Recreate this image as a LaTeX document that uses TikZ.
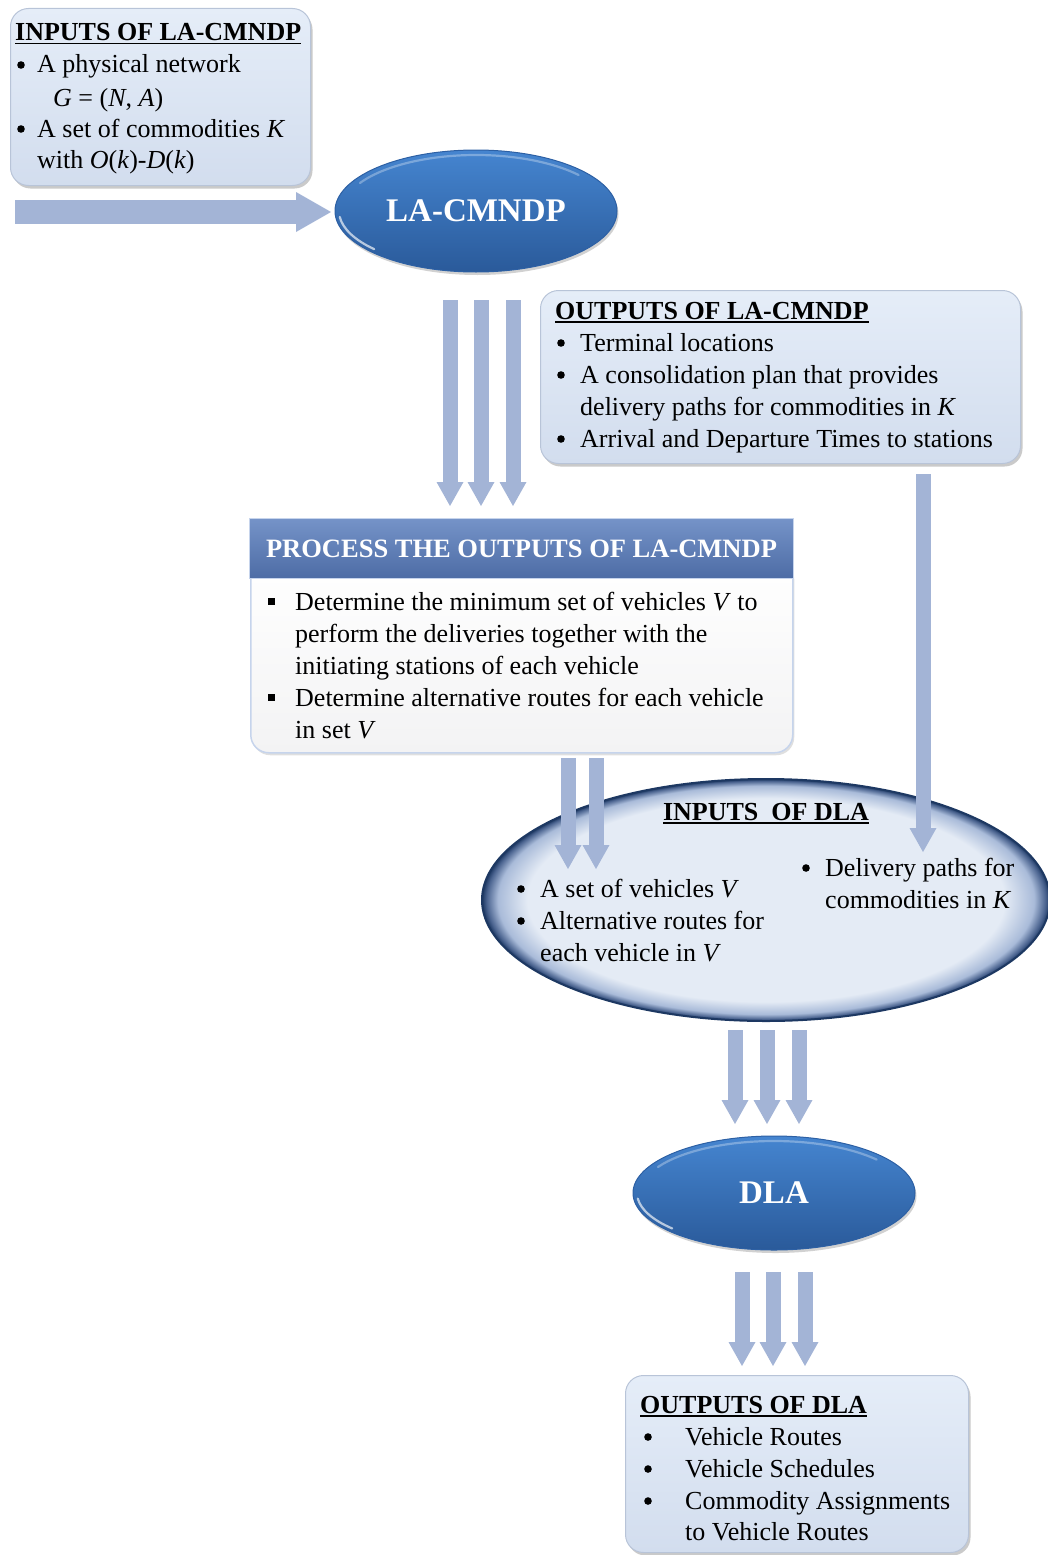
\documentclass[tikz,border=0pt]{standalone}
\usepackage{fontspec}
\setmainfont{Liberation Serif}
\usetikzlibrary{shapes.geometric,arrows.meta,shadows,calc}

\definecolor{boxtop}{HTML}{E5EDF8}
\definecolor{boxbot}{HTML}{D2DDEE}
\definecolor{boxline}{HTML}{B8C4D8}
\definecolor{ovaltop}{HTML}{4585D0}
\definecolor{ovalbot}{HTML}{2A5A9A}
\definecolor{ovalline}{HTML}{2D60A4}
\definecolor{flowc}{HTML}{A3B4D6}
\definecolor{headtop}{HTML}{7593C8}
\definecolor{headbot}{HTML}{4D6CA5}
\definecolor{bodyfill}{HTML}{F3F3F4}
\definecolor{bodyline}{HTML}{C6D4EC}
\definecolor{rimdark}{HTML}{1D3862}
\definecolor{rimdeep}{HTML}{4A638F}
\definecolor{rimmid}{HTML}{A9BBD9}
\definecolor{dlafill}{HTML}{E4EBF5}

% light interior fading into a dark navy rim (the path edge sits at 25bp)
\pgfdeclareradialshading{rimshade}{\pgfpoint{0bp}{0bp}}{color(0bp)=(dlafill); color(21bp)=(dlafill); color(23.6bp)=(rimmid); color(24.6bp)=(rimdeep); color(25bp)=(rimdark); color(50bp)=(rimdark)}

% heading text with a heavier underline
\newcommand\hdline[1]{\setbox0\hbox{#1}\rlap{\rule[-3.5pt]{\wd0}{1.6pt}}\box0}
\newcommand\sqbullet{\raisebox{5.5pt}{\rule{6.5pt}{6.5pt}}}

\tikzset{
  txt/.style={font=\fontsize{26}{32}\selectfont, inner sep=0pt, anchor=base west},
  hd/.style={txt, font=\fontsize{26}{32}\selectfont\bfseries},
  dot/.style={fill=black},
  panel/.style={rectangle, rounded corners=18pt, draw=boxline, line width=1pt,
    top color=boxtop, bottom color=boxbot, anchor=north west,
    drop shadow={shadow xshift=2pt, shadow yshift=-3pt, opacity=.35, fill=black!60}},
  oval/.style={ellipse, draw=ovalline, line width=1pt, top color=ovaltop, bottom color=ovalbot,
    text=white, font=\fontsize{33}{36}\selectfont\bfseries, inner sep=0pt,
    drop shadow={shadow xshift=1.5pt, shadow yshift=-3pt, opacity=.3, fill=black!60}},
  gleam/.style={white, line width=2.2pt, line cap=round, opacity=.65},
  flow/.style={draw=flowc, line width=15pt, -{Triangle[width=27pt,length=24pt,line width=0pt]}},
  bigflow/.style={draw=flowc, line width=24pt, -{Triangle[width=40pt,length=35pt,line width=0pt]}},
}

\begin{document}
\begin{tikzpicture}[x=1pt,y=1pt]
\useasboundingbox (0,0) rectangle (1047,-1555);

% ---------- inputs of LA-CMNDP ----------
\node[panel, minimum width=300, minimum height=177] (inLA) at (10,-8) {};
\node[hd]  (inLAh) at (15,-41)  {\hdline{INPUTS OF LA-CMNDP}};
\node[txt] (inLA1) at (37,-73)  {A physical network};
\node[txt] (inLA2) at (53,-106) {\textit{G} = (\textit{N}, \textit{A})};
\node[txt] (inLA3) at (37,-137) {A set of commodities \textit{K}};
\node[txt] (inLA4) at (37,-168) {with \textit{O}(\textit{k})-\textit{D}(\textit{k})};
\fill[dot] (21,-65) circle[radius=3.8];
\fill[dot] (21,-129) circle[radius=3.8];

% ---------- LA-CMNDP ----------
\node[oval, minimum width=282, minimum height=122] (la) at (476,-211) {LA-CMNDP};
\draw[gleam] ($(la.center)+(186:137 and 57)$) arc[start angle=186, end angle=222, x radius=137, y radius=57];
\draw[gleam, opacity=.3] ($(la.center)+(150:134 and 56)$) arc[start angle=150, end angle=40, x radius=134, y radius=56];

\coordinate (inS) at (15,-212);
\coordinate (inE) at (331,-212);
\draw[bigflow] (inS) -- (inE);

% ---------- outputs of LA-CMNDP ----------
\node[panel, minimum width=480, minimum height=173] (outLA) at (540,-290) {};
\node[hd]  (outLAh) at (555,-319) {\hdline{OUTPUTS OF LA-CMNDP}};
\node[txt] (outLA1) at (580,-351) {Terminal locations};
\node[txt] (outLA2) at (580,-383) {A consolidation plan that provides};
\node[txt] (outLA3) at (580,-415) {delivery paths for commodities in \textit{K}};
\node[txt] (outLA4) at (580,-447) {Arrival and Departure Times to stations};
\fill[dot] (561,-343) circle[radius=3.8];
\fill[dot] (561,-375) circle[radius=3.8];
\fill[dot] (561,-439) circle[radius=3.8];

% three flows from LA-CMNDP down to the processing step
\coordinate (fa1s) at (450,-300); \coordinate (fa1e) at (450,-506);
\coordinate (fa2s) at (481,-300); \coordinate (fa2e) at (481,-506);
\coordinate (fa3s) at (513,-300); \coordinate (fa3e) at (513,-506);
\draw[flow] (fa1s) -- (fa1e);
\draw[flow] (fa2s) -- (fa2e);
\draw[flow] (fa3s) -- (fa3e);

% ---------- processing step ----------
\node[rectangle, rounded corners=18pt, draw=bodyline, line width=1.5pt, top color=white, bottom color=bodyfill,
  minimum width=542, minimum height=194, anchor=north west,
  drop shadow={shadow xshift=1.5pt, shadow yshift=-2.5pt, opacity=.25, fill=black!50}] (proc) at (250,-558) {};
\node[rectangle, top color=headtop, bottom color=headbot, draw=bodyline, line width=1pt,
  minimum width=544, minimum height=60, anchor=north west, inner sep=0pt,
  text=white, font=\fontsize{26.5}{32}\selectfont\bfseries] (proch) at (249,-518) {PROCESS THE OUTPUTS OF LA-CMNDP};
\node[txt] (proc1) at (268,-610) {\makebox[27pt][l]{\sqbullet}Determine the minimum set of vehicles \textit{V} to};
\node[txt] (proc2) at (295,-642) {perform the deliveries together with the};
\node[txt] (proc3) at (295,-674) {initiating stations of each vehicle};
\node[txt] (proc4) at (268,-706) {\makebox[27pt][l]{\sqbullet}Determine alternative routes for each vehicle};
\node[txt] (proc5) at (295,-738) {in set \textit{V}};

% ---------- inputs of DLA ----------
\path[shade, shading=rimshade] (766,-900) ellipse[x radius=284, y radius=121];
\draw[rimdark, line width=2pt] (766,-900) ellipse[x radius=284, y radius=121];
\coordinate (inDLA) at (766,-900);

\coordinate (fb1s) at (568,-758); \coordinate (fb1e) at (568,-869);
\coordinate (fb2s) at (596,-758); \coordinate (fb2e) at (596,-869);
\draw[flow] (fb1s) -- (fb1e);
\draw[flow] (fb2s) -- (fb2e);

\coordinate (fcs) at (923,-474); \coordinate (fce) at (923,-852);
\draw[flow] (fcs) -- (fce);

\node[hd, anchor=base] (inDLAh) at (766,-820) {\hdline{INPUTS\ \ OF DLA}};
\node[txt] (inDLA1) at (540,-897) {A set of vehicles \textit{V}};
\node[txt] (inDLA2) at (540,-929) {Alternative routes for};
\node[txt] (inDLA3) at (540,-961) {each vehicle in \textit{V}};
\node[txt] (inDLA4) at (825,-876) {Delivery paths for};
\node[txt] (inDLA5) at (825,-908) {commodities in \textit{K}};
\fill[dot] (521,-889) circle[radius=3.8];
\fill[dot] (521,-921) circle[radius=3.8];
\fill[dot] (806,-868) circle[radius=3.8];

% ---------- DLA ----------
\coordinate (fd1s) at (735,-1030); \coordinate (fd1e) at (735,-1124);
\coordinate (fd2s) at (767,-1030); \coordinate (fd2e) at (767,-1124);
\coordinate (fd3s) at (799,-1030); \coordinate (fd3e) at (799,-1124);
\draw[flow] (fd1s) -- (fd1e);
\draw[flow] (fd2s) -- (fd2e);
\draw[flow] (fd3s) -- (fd3e);

\node[oval, minimum width=282, minimum height=114] (dla) at (774,-1193) {DLA};
\draw[gleam] ($(dla.center)+(186:137 and 53)$) arc[start angle=186, end angle=222, x radius=137, y radius=53];
\draw[gleam, opacity=.3] ($(dla.center)+(150:134 and 52)$) arc[start angle=150, end angle=40, x radius=134, y radius=52];

\coordinate (fe1s) at (742,-1272); \coordinate (fe1e) at (742,-1366);
\coordinate (fe2s) at (773,-1272); \coordinate (fe2e) at (773,-1366);
\coordinate (fe3s) at (805,-1272); \coordinate (fe3e) at (805,-1366);
\draw[flow] (fe1s) -- (fe1e);
\draw[flow] (fe2s) -- (fe2e);
\draw[flow] (fe3s) -- (fe3e);

% ---------- outputs of DLA ----------
\node[panel, minimum width=343, minimum height=177] (outDLA) at (625,-1375) {};
\node[hd]  (outDLAh) at (640,-1413) {\hdline{OUTPUTS OF DLA}};
\node[txt] (outDLA1) at (685,-1445) {Vehicle Routes};
\node[txt] (outDLA2) at (685,-1477) {Vehicle Schedules};
\node[txt] (outDLA3) at (685,-1509) {Commodity Assignments};
\node[txt] (outDLA4) at (685,-1540) {to Vehicle Routes};
\fill[dot] (648,-1437) circle[radius=3.8];
\fill[dot] (648,-1469) circle[radius=3.8];
\fill[dot] (648,-1501) circle[radius=3.8];
\end{tikzpicture}
\end{document}
